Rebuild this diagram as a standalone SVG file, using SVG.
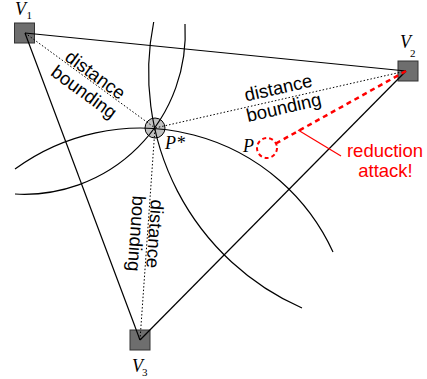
<svg xmlns="http://www.w3.org/2000/svg" width="427" height="379" viewBox="0 0 427 379">
  <style>
    .edge { stroke: #000; stroke-width: 1.2; fill: none; }
    .arc { stroke: #000; stroke-width: 1.2; fill: none; }
    .dot { stroke: #000; stroke-width: 1; stroke-dasharray: 1.5 2; fill: none; }
    .lbl { font-family: "Liberation Sans", Arial, sans-serif; font-size: 18.5px; fill: #000; text-anchor: middle; }
    .red { fill: #ff0000; }
    .vname { font-family: "Liberation Serif", "Times New Roman", serif; font-style: italic; font-size: 18px; fill: #000; }
    .sub { font-family: "Liberation Serif", "Times New Roman", serif; font-size: 11px; fill: #000; }
    .verifier { fill: #6e6e6e; stroke: #333; stroke-width: 1; }
  </style>

  <!-- verifiers and the prover position -->
  <g id="V1"><rect class="verifier" x="14.5" y="23" width="20" height="20"/></g>
  <g id="V2"><rect class="verifier" x="398" y="61" width="20" height="20"/></g>
  <g id="V3"><rect class="verifier" x="130" y="330" width="20" height="20"/></g>
  <g id="Pstar"><circle cx="155" cy="128" r="10" fill="#c0c0c0" stroke="#000" stroke-width="1"/></g>

  <g id="connectors">
    <!-- triangle of verifiers -->
    <line class="edge" x1="25" y1="33" x2="406" y2="71"/>
    <line class="edge" x1="25" y1="33" x2="140" y2="340"/>
    <line class="edge" x1="140" y1="340" x2="406" y2="71"/>
    <!-- distance bounds -->
    <line class="dot" x1="25" y1="33" x2="155" y2="128"/>
    <line class="dot" x1="406" y1="71" x2="155" y2="128"/>
    <line class="dot" x1="140" y1="340" x2="155" y2="128"/>
    <!-- range circles around each verifier -->
    <path class="arc" d="M153.7,22 A257,257 0 0 0 302,308"/>
    <path class="arc" d="M15,169 A212,212 0 0 1 333,252"/>
    <path class="arc" d="M185,24 A161,161 0 0 1 15,194"/>
    <!-- reduction attack -->
    <line x1="406" y1="71" x2="275" y2="144" stroke="#ff0000" stroke-width="2.5" stroke-dasharray="5 4"/>
    <circle cx="267" cy="148" r="10" fill="none" stroke="#ff0000" stroke-width="2" stroke-dasharray="4 3"/>
    <line x1="298" y1="130" x2="341" y2="156" stroke="#ff0000" stroke-width="1.2"/>
  </g>

  <!-- labels -->
  <text class="vname" x="15" y="14.5">V</text><text class="sub" x="26.5" y="19">1</text>
  <text class="vname" x="400" y="48">V</text><text class="sub" x="410" y="57">2</text>
  <text class="vname" x="132" y="372">V</text><text class="sub" x="142" y="375.5">3</text>
  <text class="vname" x="165" y="148.5">P*</text>
  <text class="vname red" x="243" y="152">P</text>

  <g transform="translate(25,33) rotate(36.2)">
    <text class="lbl" x="81.5" y="-1.5">distance</text>
    <text class="lbl" x="82.5" y="19">bounding</text>
  </g>
  <g transform="translate(281,99.6) rotate(-12.8)">
    <text class="lbl" x="0" y="-5.8">distance</text>
    <text class="lbl" x="1" y="14.5">bounding</text>
  </g>
  <g transform="translate(155,128) rotate(94)">
    <text class="lbl" x="105.7" y="-1.1">distance</text>
    <text class="lbl" x="106.6" y="17.4">bounding</text>
  </g>

  <text class="lbl red" x="385" y="156.5">reduction</text>
  <text class="lbl red" x="385.5" y="176.5">attack!</text>
</svg>
